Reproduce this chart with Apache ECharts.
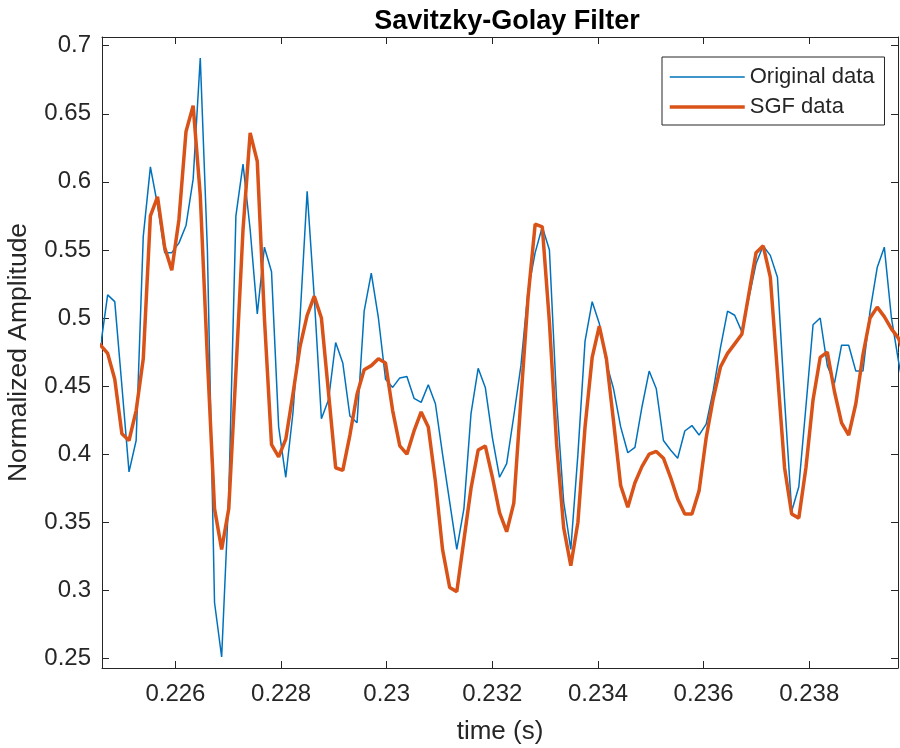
<!DOCTYPE html>
<html>
<head>
<meta charset="utf-8">
<script src="https://cdn.jsdelivr.net/npm/echarts@6/dist/echarts.min.js"></script>
<style>
  html, body { margin: 0; padding: 0; background: #ffffff; }
  #chart { width: 900px; height: 748px; }
</style>
</head>
<body>
<div id="chart"></div>
<script>
// Uniformly sampled signal: first sample time and sample period (s)
const START_TIME = 0.224447;
const SAMPLE_PERIOD = 0.0001349;

// Raw normalized amplitude samples
const originalData = [
  0.45, 0.479, 0.517, 0.512, 0.45, 0.387, 0.41, 0.56, 0.611, 0.583,
  0.548, 0.548, 0.555, 0.568, 0.602, 0.691, 0.55, 0.291, 0.251, 0.37,
  0.575, 0.613, 0.565, 0.503, 0.552, 0.534, 0.42, 0.383, 0.43, 0.50,
  0.593, 0.515, 0.426, 0.44, 0.482, 0.467, 0.428, 0.423, 0.505, 0.533,
  0.50, 0.455, 0.449, 0.456, 0.457, 0.441, 0.438, 0.451, 0.437, 0.40,
  0.365, 0.33, 0.36, 0.43, 0.463, 0.449, 0.412, 0.383, 0.393, 0.428,
  0.465, 0.52, 0.548, 0.567, 0.55, 0.44, 0.365, 0.33, 0.40, 0.483,
  0.512, 0.496, 0.467, 0.448, 0.42, 0.401, 0.405, 0.435, 0.461, 0.448,
  0.41, 0.403, 0.397, 0.417, 0.421, 0.414, 0.422, 0.447, 0.478, 0.505,
  0.502, 0.49, 0.515, 0.54, 0.553, 0.546, 0.53, 0.44, 0.358, 0.376,
  0.435, 0.495, 0.50, 0.465, 0.452, 0.48, 0.48, 0.461, 0.461, 0.505,
  0.537, 0.552, 0.50, 0.468, 0.44
];

// Savitzky-Golay smoothed samples
const sgfData = [
  0.485, 0.48, 0.474, 0.455, 0.415, 0.41, 0.432, 0.47, 0.575, 0.589,
  0.552, 0.535, 0.572, 0.637, 0.656, 0.59, 0.47, 0.36, 0.33, 0.36,
  0.46, 0.565, 0.636, 0.615, 0.50, 0.407, 0.398, 0.411, 0.444, 0.479,
  0.502, 0.516, 0.50, 0.445, 0.39, 0.388, 0.414, 0.444, 0.462, 0.465,
  0.47, 0.467, 0.432, 0.406, 0.40, 0.417, 0.431, 0.42, 0.38, 0.33,
  0.302, 0.299, 0.337, 0.375, 0.403, 0.406, 0.383, 0.357, 0.343, 0.364,
  0.44, 0.515, 0.569, 0.567, 0.497, 0.408, 0.346, 0.318, 0.35, 0.42,
  0.471, 0.494, 0.47, 0.424, 0.377, 0.361, 0.379, 0.391, 0.40, 0.402,
  0.397, 0.383, 0.367, 0.356, 0.356, 0.373, 0.412, 0.441, 0.464, 0.474,
  0.481, 0.488, 0.518, 0.548, 0.553, 0.53, 0.46, 0.39, 0.356, 0.353,
  0.39, 0.44, 0.471, 0.475, 0.446, 0.423, 0.414, 0.437, 0.473, 0.50,
  0.508, 0.501, 0.492, 0.485, 0.47
];

const seriesNames = ['Original data', 'SGF data'];
const xTicks = [0.226, 0.228, 0.230, 0.232, 0.234, 0.236, 0.238];
const yTicks = [0.25, 0.30, 0.35, 0.40, 0.45, 0.50, 0.55, 0.60, 0.65, 0.70];
const xRange = [0.22461, 0.23968];
const yRange = [0.2429, 0.7064];

const FONT = "'Liberation Sans', Arial, Helvetica, sans-serif";
const INK = '#262626';
const BLUE = '#0072BD';
const ORANGE = '#D95319';
const BLUE_WIDTH = 1.5;
const ORANGE_WIDTH = 3.5;

const toPairs = (values) =>
  values.map((v, i) => [START_TIME + i * SAMPLE_PERIOD, v]);

const axisLineStyle = { color: INK, width: 1 };

function makeXAxis(position, withLabels) {
  return {
    type: 'value',
    position: position,
    min: xRange[0],
    max: xRange[1],
    axisLine: { show: true, onZero: false, lineStyle: axisLineStyle },
    axisTick: { show: true, inside: true, length: 7, customValues: xTicks, lineStyle: axisLineStyle },
    axisLabel: {
      show: withLabels,
      customValues: xTicks,
      formatter: (v) => String(parseFloat(Number(v).toFixed(3))),
      fontFamily: FONT, fontSize: 24, color: INK, margin: 14
    },
    splitLine: { show: false },
    name: withLabels ? 'time (s)' : '',
    nameLocation: 'middle',
    nameGap: 51,
    nameTextStyle: { fontFamily: FONT, fontSize: 26, color: INK }
  };
}

function makeYAxis(position, withLabels) {
  return {
    type: 'value',
    position: position,
    min: yRange[0],
    max: yRange[1],
    axisLine: { show: true, onZero: false, lineStyle: axisLineStyle },
    axisTick: { show: true, inside: true, length: 7, customValues: yTicks, lineStyle: axisLineStyle },
    axisLabel: {
      show: withLabels,
      customValues: yTicks,
      formatter: (v) => String(parseFloat(Number(v).toFixed(2))),
      fontFamily: FONT, fontSize: 24, color: INK, margin: 11
    },
    splitLine: { show: false },
    name: withLabels ? 'Normalized Amplitude' : '',
    nameLocation: 'middle',
    nameGap: 70,
    nameTextStyle: { fontFamily: FONT, fontSize: 26.5, color: INK }
  };
}

const chart = echarts.init(document.getElementById('chart'), null, { renderer: 'canvas' });

chart.setOption({
  backgroundColor: '#ffffff',
  animation: false,
  title: {
    text: 'Savitzky-Golay Filter',
    left: 502,
    top: 3,
    textAlign: 'center',
    textStyle: { fontFamily: FONT, fontSize: 27, fontWeight: 'bold', color: '#000000' }
  },
  grid: {
    left: 102, right: 2, top: 37, bottom: 80,
    containLabel: false,
    outerBoundsMode: 'none'
  },
  legend: {
    data: [
      { name: seriesNames[0], lineStyle: { color: BLUE, width: BLUE_WIDTH } },
      { name: seriesNames[1], lineStyle: { color: ORANGE, width: ORANGE_WIDTH } }
    ],
    orient: 'vertical',
    left: 662,
    top: 57,
    itemWidth: 75,
    itemHeight: 22,
    itemGap: 8,
    padding: [9, 10, 7, 6],
    borderColor: INK,
    borderWidth: 1,
    borderRadius: 0,
    backgroundColor: '#ffffff',
    itemStyle: { color: 'rgba(0,0,0,0)', borderWidth: 0, opacity: 0 },
    textStyle: { fontFamily: FONT, fontSize: 22, color: INK, lineHeight: 22 }
  },
  xAxis: [makeXAxis('bottom', true), makeXAxis('top', false)],
  yAxis: [makeYAxis('left', true), makeYAxis('right', false)],
  series: [
    {
      name: seriesNames[0],
      type: 'line',
      xAxisIndex: 0,
      yAxisIndex: 0,
      data: toPairs(originalData),
      symbol: 'none',
      clip: true,
      lineStyle: { color: BLUE, width: BLUE_WIDTH },
      itemStyle: { color: BLUE },
      z: 2
    },
    {
      name: seriesNames[1],
      type: 'line',
      xAxisIndex: 0,
      yAxisIndex: 0,
      data: toPairs(sgfData),
      symbol: 'none',
      clip: true,
      lineStyle: { color: ORANGE, width: ORANGE_WIDTH },
      itemStyle: { color: ORANGE },
      z: 3
    }
  ]
});
</script>
</body>
</html>
